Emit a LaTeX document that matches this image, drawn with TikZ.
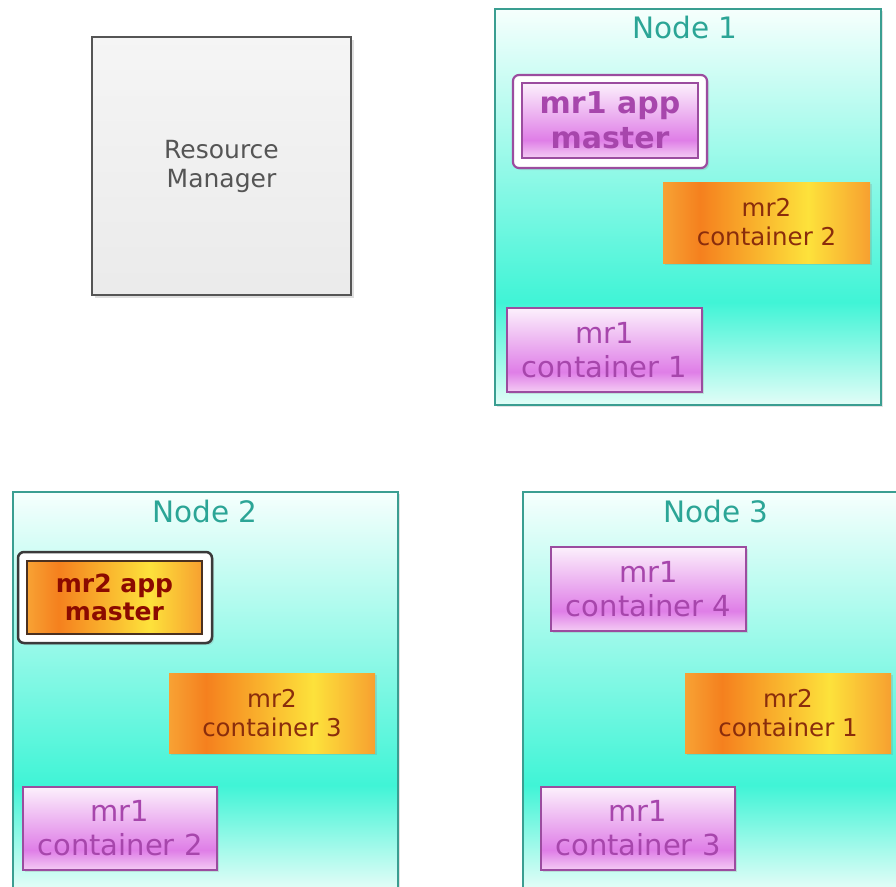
\documentclass[tikz,border=0pt]{standalone}
\usepackage{fontspec}
\setmainfont{DejaVu Sans}
\usetikzlibrary{shadows}

% palette
\definecolor{hostline}{HTML}{3A9E91}
\definecolor{hosttitle}{HTML}{2BA596}
\definecolor{hosttop}{HTML}{F6FFFD}
\definecolor{hostteal}{HTML}{40F4D6}
\definecolor{hostlow}{HTML}{E2FDF7}
\definecolor{mrline}{HTML}{9B4C9F}
\definecolor{mrtext}{HTML}{A746AC}
\definecolor{mrtop}{HTML}{FCF0FC}
\definecolor{mrdeep}{HTML}{DF7EE7}
\definecolor{mrlow}{HTML}{F4CCF4}
\definecolor{orleft}{HTML}{F7A234}
\definecolor{ordeep}{HTML}{F5801E}
\definecolor{oryellow}{HTML}{FDE23B}
\definecolor{orright}{HTML}{F7A030}
\definecolor{ortext}{HTML}{8A2D0C}
\definecolor{amtext}{HTML}{8B0A00}
\definecolor{amline}{HTML}{4A3020}
\definecolor{amframe}{HTML}{3A3A3A}
\definecolor{rmline}{HTML}{555555}
\definecolor{rmtext}{HTML}{555555}

% cluster host: white at the top, teal low down, pale again at the bottom
\pgfdeclareverticalshading{hostshade}{100bp}{%
  color(0bp)=(hostlow); color(25bp)=(hostlow); color(38bp)=(hostteal);
  color(75bp)=(hosttop); color(100bp)=(hosttop)}
% MR1 tasks: pale pink to magenta
\pgfdeclareverticalshading{mrshade}{100bp}{%
  color(0bp)=(mrlow); color(25bp)=(mrlow); color(37bp)=(mrdeep);
  color(75bp)=(mrtop); color(100bp)=(mrtop)}
% MR2 tasks: orange to yellow, left to right
\pgfdeclarehorizontalshading{orshade}{100bp}{%
  color(0bp)=(orleft); color(25bp)=(orleft); color(34bp)=(ordeep);
  color(60bp)=(oryellow); color(75bp)=(orright); color(100bp)=(orright)}

\begin{document}
\begin{tikzpicture}[x=1pt,y=-1pt,
  box/.style={inner sep=0pt, anchor=center, align=center},
  softshadow/.style={drop shadow={opacity=0.22, shadow xshift=2pt, shadow yshift=-2pt}},
  hostbox/.style={box, draw=hostline, line width=2.2pt, shading=hostshade, softshadow},
  hosttitlefont/.style={text=hosttitle, font={\fontsize{29.5}{34}\selectfont}},
  mrbox/.style={box, draw=mrline, line width=2pt, shading=mrshade, softshadow,
    text=mrtext, font={\fontsize{29}{34}\selectfont}},
  orbox/.style={box, draw=none, shading=orshade, softshadow,
    text=ortext, font={\fontsize{24.5}{29}\selectfont}},
  mrframe/.style={box, draw=mrline, line width=2.2pt, fill=white, rounded corners=6pt, softshadow},
  orframe/.style={box, draw=amframe, line width=2.5pt, fill=white, rounded corners=6pt, softshadow},
  mrmaster/.style={box, draw=mrline, line width=2pt, shading=mrshade,
    text=mrtext, font={\bfseries\fontsize{30}{35}\selectfont}},
  ormaster/.style={box, draw=amline, line width=2pt, shading=orshade,
    text=amtext, font={\bfseries\fontsize{25}{28}\selectfont}},
  rmbox/.style={box, draw=rmline, line width=1.4pt, top color=white!96!black,
    bottom color=white!92!black, text=rmtext, font={\fontsize{25}{29}\selectfont},
    drop shadow={opacity=0.25, shadow xshift=3pt, shadow yshift=-3pt}}
]
\path[use as bounding box, clip] (0,0) rectangle (896,886);
\fill[white] (0,0) rectangle (896,886);

% resource manager
\node[rmbox, minimum width=259pt, minimum height=258pt] (rm) at (221.5,166) {Resource\\Manager};

% cluster hosts
\node[hostbox, minimum width=386pt, minimum height=396pt] (n1) at (688,207) {};
\node[hostbox, minimum width=385pt, minimum height=396pt] (n2) at (205.5,690) {};
\node[hostbox, minimum width=386pt, minimum height=396pt] (n3) at (716,690) {};
\node[hosttitlefont] (t1) at (685,28) {Node 1};
\node[hosttitlefont] (t2) at (205,511) {Node 2};
\node[hosttitlefont] (t3) at (716,511) {Node 3};

% Node 1
\node[mrframe, minimum width=194pt, minimum height=93pt] (am1f) at (610,121.5) {};
\node[mrmaster, minimum width=176pt, minimum height=75pt] (am1) at (610,120.5) {mr1 app\\master};
\node[orbox, minimum width=207pt, minimum height=81pt] (c22) at (766.5,222.5) {mr2\\container 2};
\node[mrbox, minimum width=195pt, minimum height=84pt] (c11) at (604.5,350) {mr1\\container 1};

% Node 2
\node[orframe, minimum width=194pt, minimum height=91pt] (am2f) at (115,597.5) {};
\node[ormaster, minimum width=175pt, minimum height=73pt] (am2) at (114.5,597.5) {mr2 app\\master};
\node[orbox, minimum width=206pt, minimum height=80pt] (c23) at (272,713) {mr2\\container 3};
\node[mrbox, minimum width=194pt, minimum height=83pt] (c12) at (120,828.5) {mr1\\container 2};

% Node 3
\node[mrbox, minimum width=195pt, minimum height=84pt] (c14) at (648.5,589) {mr1\\container 4};
\node[orbox, minimum width=206pt, minimum height=80pt] (c21) at (788,713) {mr2\\container 1};
\node[mrbox, minimum width=194pt, minimum height=83pt] (c13) at (638,828.5) {mr1\\container 3};
\end{tikzpicture}
\end{document}
